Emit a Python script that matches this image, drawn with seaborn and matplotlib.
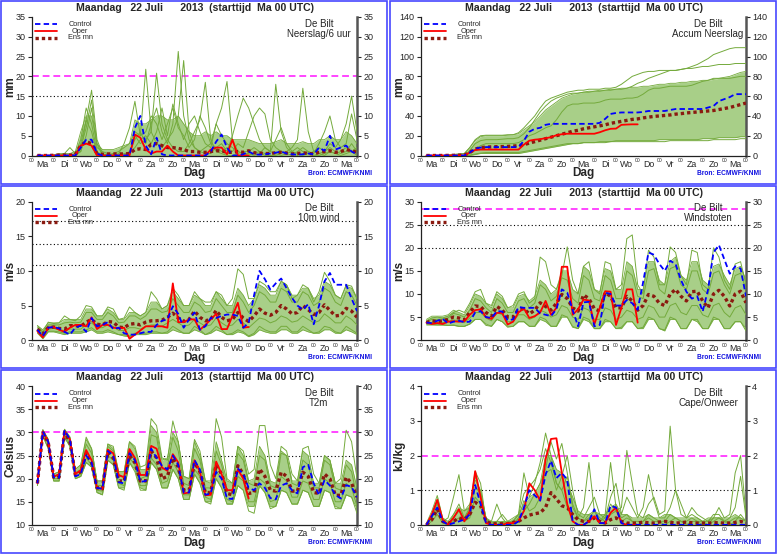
import numpy as np
import pandas as pd
import matplotlib
matplotlib.use("Agg")
import matplotlib.pyplot as plt
import seaborn as sns
from matplotlib.patches import Rectangle

sns.set_style("white")
plt.rcParams['font.family'] = ['Liberation Sans', 'DejaVu Sans']

# forecast steps (hours after Ma 00 UTC) and day names
uren = np.arange(6, 361, 6)
dagen = ["Ma", "Di", "Wo", "Do", "Vr", "Za", "Zo", "Ma", "Di", "Wo", "Do", "Vr", "Za", "Zo", "Ma"]

# ---------------- Neerslag / 6 uur (mm) ----------------
pr_control = [0, 0, 0, 0,  0, 0, 0, 0,  2, 4, 4, 0.5,  0, 0, 0, 0,
              0, 0, 7, 10,  2.5, 0.3, 4.5, 0.3,  0, 0, 0, 0,  0, 0, 0, 0,
              1, 3.5, 5.3, 2,  0, 0, 0.3, 1,  0.3, 0.2, 0.3, 0.5,  0.7, 1, 0.5, 0.3,
              0.2, 0.3, 0.5, 0.3,  2, 1.2, 5, 1.5,  2, 2.5, 1, 0.3]
pr_oper = [0, 0, 0, 0,  0, 0, 0, 0,  2.5, 3, 2.5, 0,  0, 0, 0, 0,
           0, 0, 5.3, 4.5,  1.5, 0.5, 1, 1,  2.5, 1, 0, 0,  0, 0, 0, 0,
           1.5, 2, 2, 0.3,  4, 0, 0, 0]
pr_mean = [0, 0, 0, 0.05,  0.1, 0.1, 0.1, 0.2,  2.5, 3.5, 3, 0.5,  0.3, 0.4, 0.4, 0.4,
           0.4, 0.5, 1.5, 1.7,  1.5, 2.8, 3, 2.5,  2, 2, 1.8, 1.5,  1, 1, 0.8, 0.8,
           1, 1.2, 1.2, 0.8,  0.8, 1, 0.8, 1.2,  0.7, 0.6, 0.5, 0.5,  0.7, 0.8, 0.6, 0.4,
           0.5, 0.7, 0.5, 0.4,  0.8, 1, 1.2, 0.8,  1, 1.5, 1.2, 0.8]
pr_hi = [0, 0, 0, 0.2,  0.5, 0.5, 0.5, 1,  6, 10, 10, 3,  1.5, 1.5, 1.5, 2,
         2.5, 3, 9, 8,  8, 9, 10, 10,  9, 9, 10, 8,  6, 5, 5, 6,
         5, 6, 5, 5,  4, 4, 4, 4,  3.5, 3, 3, 3,  3.5, 4, 3, 3,
         3, 3.5, 3, 3,  4, 4, 5, 4,  4, 6, 5, 3]
pr_leden = [
    [0, 0, 0, 0,  0, 0, 0, 0,  3, 9, 16.5, 4,  0.5, 0, 0.5, 1,
     2, 3, 6, 5,  21.8, 6, 3, 2,  4, 2, 1, 1,  3, 6, 9, 18.5,
     4, 1, 0.5, 0,  0, 0.5, 1, 1,  2, 1, 0.5, 1,  18, 6, 2, 0.5,
     0, 0.5, 1, 0,  0, 0.5, 1, 0.5,  1, 2, 1, 0],
    [0, 0, 0, 0,  0, 0.5, 2, 0.5,  1, 5, 12, 2,  1, 0.5, 0, 0,
     0, 1, 4, 6,  3, 8, 12, 6,  3, 8, 26.3, 10,  4, 2, 1, 2,
     3, 8, 12, 18.7,  4, 1, 0.5, 0,  0.5, 1, 0, 0,  0, 0.5, 1, 2,
     4, 17, 6, 1,  0.5, 0, 1, 0.5,  0, 0.5, 1, 2],
    [0, 0, 0, 0,  0, 0, 0, 0,  2, 7, 14, 3,  0, 0, 0.5, 0,
     0.5, 0.5, 5, 3,  4, 6, 20.8, 8,  4, 6, 10, 24,  6, 2, 1, 0.5,
     0.5, 2, 3, 1,  5, 10, 14.5, 12,  8, 4, 2, 1,  0.5, 0, 0.5, 1,
     0.5, 0, 0.5, 1,  2, 1, 3, 2,  4, 8, 15, 6],
    [0, 0, 0, 0,  0, 0, 0, 0.5,  4, 12, 8, 1,  0, 0.5, 0, 0.5,
     3, 7, 13.7, 5,  6, 10, 8, 4,  8, 12, 7, 5,  2, 4, 10, 7,
     3, 2, 1, 2,  1, 3, 2, 6,  10, 12, 10.5, 4,  2, 1, 0.5, 0,
     1, 2, 1, 0.5,  3, 6, 10, 4,  2, 3, 10.5, 4],
    [0, 0, 0, 0,  0, 0, 0, 0,  1, 9, 6, 0.5,  0, 0, 0, 0,
     0, 0.5, 2, 4,  5, 3, 6, 12,  5, 13, 8, 4,  8, 10, 6, 3,
     2, 8, 5, 3,  2, 1, 0.5, 0.5,  0, 0.5, 2, 1,  4, 7, 3, 1,
     2, 1, 0.5, 0,  0.5, 1, 2, 1,  0.5, 1, 3, 1],
]

# ---------------- Accum neerslag (mm) ----------------
acc_control = [0, 0, 0, 0,  0, 0, 0, 0,  3, 7, 8, 8.5,  8.5, 8.5, 8.5, 8.5,
               8.5, 8.5, 15, 24,  27, 28, 31, 32,  32, 32, 32, 32,  32, 32, 32, 32,
               33, 37, 42, 43,  43.5, 43.5, 43.5, 43.5,  44, 45, 45, 45,  45, 46, 47, 47,
               47, 47, 47, 47,  48.5, 50, 55, 57,  59, 62, 62, 62]
acc_oper = [0, 0, 0, 0,  0, 0, 0, 0,  3, 5.5, 6, 6,  6, 6, 6, 6,
            6, 6, 11, 15,  16, 16.5, 17.5, 18.5,  20.5, 21.5, 22, 22,  22, 22, 22, 22,
            23.5, 25.5, 27, 27.2,  31, 31.3, 31.5, 31.5]
acc_mean = [0, 0, 0, 0,  0.1, 0.2, 0.3, 0.4,  3, 6.5, 8, 8.5,  8.7, 8.9, 9, 9.2,
            9.5, 10, 11, 12.5,  14, 15.5, 17, 18.5,  20, 21.5, 23, 24.5,  25.5, 27, 28, 29,
            30, 31, 32.5, 33.5,  34.5, 35.5, 36.5, 37,  38, 38.8, 39.5, 40,  40.5, 41, 41.8, 42.3,
            43, 43.5, 44, 44.5,  45, 45.5, 46.5, 47.5,  48.5, 50, 51.5, 53]
acc_hi = [0, 0, 0, 0,  0.5, 1, 1.5, 2,  8, 15, 19, 20,  20, 20, 20, 20.5,
          21, 22, 26, 30,  34, 40, 46, 50,  54, 58, 60, 62,  63, 64, 65, 65,
          66, 66, 67, 67,  68, 68, 69, 69,  70, 70, 71, 72,  72, 73, 73, 74,
          74, 75, 75, 76,  76, 77, 78, 79,  80, 82, 84, 85]
acc_lo = [0, 0, 0, 0,  0, 0, 0, 0,  0, 1, 2, 2,  2, 2, 2, 2,
          2, 2, 3, 4,  5, 6, 7, 8,  9, 10, 11, 12,  12, 13, 13, 13,
          14, 14, 14, 15,  15, 15, 15, 15,  15, 15, 15, 16,  16, 16, 16, 16,
          16, 16, 16, 17,  17, 17, 18, 18,  18, 18, 19, 19]
acc_leden = [
    [0, 0, 0, 0,  0.5, 1, 1.5, 2,  8, 16, 20, 20.5,  20.5, 20.5, 20.5, 21,
     21, 23, 28, 34,  40, 48, 55, 58,  60, 62, 64, 65,  66, 66, 67, 67,
     67, 68, 68, 69,  72, 76, 80, 82,  84, 85, 85, 86,  86, 86, 86, 87,
     88, 90, 92, 95,  98, 102, 104, 106,  108, 109, 109, 109],
    [0, 0, 0, 0,  0, 0, 0, 0,  5, 12, 15, 16,  16, 16, 16.5, 17,
     17, 18, 22, 28,  36, 44, 50, 55,  58, 60, 62, 63,  63, 64, 64, 65,
     65, 66, 66, 67,  67, 68, 70, 73,  75, 78, 80, 82,  84, 86, 86, 87,
     88, 88, 89, 90,  90, 91, 92, 92,  92, 93, 93, 93],
    [0, 0, 0, 0,  0, 0, 0, 0,  0.5, 1.5, 2.5, 3,  3, 3, 3, 3,
     3, 3, 4, 5,  6, 7, 8, 9,  10, 11, 12, 12,  12, 13, 13, 13,
     13, 13, 14, 14,  14, 14, 14, 14,  14, 14, 14, 14,  14, 15, 15, 15,
     15, 15, 15, 15,  15, 16, 16, 16,  16, 16, 17, 17],
    [0, 0, 0, 0,  0, 0, 0, 0,  2, 6, 10, 12,  12, 12, 12, 12,
     12, 13, 16, 20,  22, 25, 28, 30,  36, 44, 50, 52,  52, 53, 53, 53,
     54, 56, 57, 57,  57, 58, 58, 59,  62, 66, 68, 68,  69, 70, 70, 70,
     70, 71, 73, 75,  76, 78, 78, 78,  78, 79, 80, 80],
]

# ---------------- 10m wind (m/s) ----------------
wd_control = [1.5, 0.6, 1.8, 1.9,  1.7, 1.2, 0.8, 1.8,  2.1, 1.2, 3.2, 2.0,  2.2, 2.6, 1.6, 1.8,
              1.0, 0.8, 0.8, 1.0,  1.2, 1.2, 2.2, 2.8,  3.0, 4.9, 3.8, 1.8,  3.0, 4.0, 1.5, 2.0,
              3.2, 3.2, 3.5, 3.7,  3.7, 3.5, 1.8, 2.5,  6.5, 10.0, 8.8, 7.3,  8.2, 8.9, 7.5, 6.1,
              5.0, 4.4, 5.2, 2.3,  5.0, 8.5, 9.7, 8.0,  8.0, 8.0, 6.0, 4.2]
wd_oper = [1.3, 0.4, 1.8, 1.9,  1.5, 1.2, 1.8, 2.2,  2.2, 2.0, 3.3, 1.6,  2.2, 2.2, 1.8, 1.7,
           1.8, 0.2, 0.8, 1.4,  2.0, 2.0, 2.0, 2.0,  1.8, 8.2, 2.6, 2.6,  3.0, 3.0, 1.5, 2.2,
           3.0, 3.8, 1.6, 1.6,  3.5, 5.4, 1.8, 1.9]
wd_mean = [1.6, 0.9, 1.8, 1.9,  1.7, 1.6, 2.1, 2.1,  2.0, 2.6, 3.0, 2.3,  2.2, 2.7, 2.6, 1.9,
           1.8, 2.3, 2.4, 2.2,  2.6, 2.8, 2.8, 2.9,  3.3, 3.9, 3.2, 2.7,  3.0, 4.2, 3.3, 2.8,
           3.0, 4.3, 3.3, 2.8,  3.0, 4.0, 3.2, 2.7,  3.5, 4.5, 3.9, 3.6,  4.0, 5.0, 4.5, 3.8,
           4.0, 5.0, 4.4, 3.7,  4.0, 5.1, 4.3, 3.5,  3.6, 4.6, 4.2, 3.3]
wd_hi = [2.1, 1.5, 2.5, 2.5,  2.5, 3.0, 3.0, 3.0,  3.0, 4.5, 4.5, 3.5,  3.5, 4.5, 4.0, 3.0,
         3.0, 4.0, 4.0, 3.5,  4.0, 5.5, 5.5, 4.5,  5.0, 7.0, 6.0, 5.0,  5.0, 6.5, 6.0, 5.0,
         5.0, 7.0, 6.0, 5.0,  5.0, 7.5, 6.5, 5.0,  6.0, 8.0, 7.5, 6.5,  6.5, 8.5, 8.0, 6.5,
         6.5, 7.5, 7.5, 6.0,  6.5, 8.5, 8.0, 6.5,  6.0, 7.8, 7.5, 6.0]
wd_lo = [1.0, 0.2, 1.2, 1.2,  1.0, 0.8, 1.0, 1.0,  1.0, 1.2, 1.5, 1.0,  1.0, 1.2, 1.0, 0.8,
         0.6, 0.5, 0.8, 0.8,  0.8, 1.0, 1.0, 1.0,  1.0, 1.5, 1.2, 1.0,  1.0, 1.5, 1.2, 0.8,
         1.0, 1.5, 1.2, 0.8,  0.8, 1.2, 1.0, 0.5,  0.8, 1.5, 1.2, 1.0,  1.0, 1.5, 1.5, 1.0,
         1.0, 1.5, 1.2, 1.0,  1.0, 1.5, 1.5, 1.0,  1.0, 1.5, 1.2, 0.8]
wd_leden = [
    [2.1, 1.2, 2.6, 2.4,  2.5, 3.5, 3.0, 2.8,  3.5, 5.0, 4.8, 3.5,  3.5, 4.8, 4.5, 3.0,
     3.2, 4.8, 4.0, 3.5,  4.0, 7.0, 6.0, 4.5,  5.0, 7.5, 6.5, 5.0,  5.0, 7.0, 6.0, 5.5,
     5.5, 7.0, 6.5, 5.0,  6.0, 10.3, 9.5, 6.0,  6.0, 8.5, 8.0, 7.0,  7.0, 8.5, 8.0, 6.0,
     6.5, 8.0, 7.5, 5.5,  7.0, 9.8, 8.5, 6.5,  6.0, 8.0, 7.8, 6.0],
    [1.2, 0.3, 1.3, 1.3,  1.2, 1.0, 1.2, 1.2,  1.2, 1.5, 1.8, 1.2,  1.2, 1.5, 1.2, 0.8,
     0.8, 0.6, 1.0, 1.0,  1.0, 1.2, 1.2, 1.0,  1.2, 2.0, 1.5, 1.0,  1.0, 2.0, 1.5, 0.8,
     1.2, 2.0, 1.5, 0.8,  1.0, 1.5, 1.2, 0.6,  1.0, 2.0, 1.5, 1.2,  1.2, 2.0, 2.0, 1.2,
     1.2, 2.0, 1.5, 1.0,  1.2, 2.0, 1.8, 1.2,  1.0, 2.0, 1.5, 1.0],
    [1.8, 1.0, 2.2, 2.2,  2.2, 2.5, 2.6, 2.5,  2.6, 4.0, 4.0, 3.0,  3.0, 4.0, 3.5, 2.5,
     2.6, 3.5, 3.5, 3.0,  3.5, 4.5, 4.5, 4.0,  4.2, 6.0, 5.0, 4.0,  4.0, 5.5, 5.0, 4.0,
     4.2, 6.0, 5.0, 4.0,  4.0, 6.5, 5.5, 4.0,  5.0, 7.0, 6.5, 5.5,  5.5, 7.5, 7.0, 5.5,
     5.5, 7.0, 6.5, 5.0,  5.5, 7.5, 7.0, 5.5,  5.0, 7.0, 6.5, 5.0],
    [1.4, 0.7, 1.6, 1.7,  1.5, 1.4, 1.6, 1.6,  1.6, 2.2, 2.5, 1.8,  1.8, 2.2, 2.0, 1.4,
     1.4, 1.8, 1.8, 1.6,  2.0, 2.2, 2.2, 2.0,  2.5, 3.0, 2.5, 2.0,  2.2, 3.0, 2.5, 2.0,
     2.2, 3.2, 2.5, 2.0,  2.2, 3.0, 2.5, 1.8,  2.5, 3.2, 3.0, 2.5,  2.8, 3.5, 3.2, 2.6,
     2.8, 3.5, 3.0, 2.5,  2.8, 3.8, 3.2, 2.5,  2.5, 3.5, 3.0, 2.2],
]

# ---------------- Windstoten (m/s) ----------------
ws_control = [3.8, 3.7, 4.2, 4.6,  3.6, 4.0, 4.2, 3.9,  4.0, 6.0, 6.3, 5.0,  4.8, 6.3, 6.2, 4.3,
              4.5, 7.2, 7.0, 7.0,  7.0, 5.8, 5.5, 5.2,  6.7, 11.0, 10.3, 6.5,  3.0, 8.2, 8.3, 3.0,
              3.3, 10.3, 10.0, 7.5,  7.5, 8.7, 8.0, 6.6,  12.5, 19.0, 18.5, 16.5,  15.0, 17.2, 16.5, 13.0,
              10.5, 9.0, 9.5, 6.2,  11.0, 19.0, 20.6, 17.5,  14.4, 16.0, 15.5, 9.5]
ws_oper = [3.8, 3.5, 3.7, 3.5,  4.0, 4.1, 4.0, 4.1,  5.5, 6.5, 6.7, 5.0,  4.6, 5.9, 5.9, 3.4,
           4.0, 6.0, 6.9, 4.8,  5.2, 6.0, 8.5, 5.5,  7.0, 15.9, 15.9, 5.5,  6.7, 8.8, 8.6, 3.4,
           7.0, 10.6, 10.5, 3.3,  7.0, 11.0, 11.0, 3.8]
ws_mean = [3.8, 4.2, 4.0, 4.2,  4.5, 5.0, 4.8, 4.4,  6.0, 7.4, 7.3, 6.0,  5.2, 7.3, 6.5, 5.0,
           5.0, 6.7, 6.8, 5.7,  6.5, 8.1, 7.3, 6.5,  8.0, 9.9, 9.0, 7.0,  6.3, 9.8, 9.0, 6.8,
           6.3, 10.3, 9.5, 7.0,  7.0, 9.5, 8.5, 6.5,  7.5, 9.9, 9.5, 8.0,  7.5, 10.0, 11.0, 9.5,
           8.5, 10.5, 10.6, 8.5,  7.0, 10.0, 10.8, 9.5,  7.4, 10.0, 10.6, 8.1]
ws_hi = [4.5, 5.2, 5.2, 5.2,  5.5, 6.5, 6.0, 5.5,  7.5, 10.0, 9.5, 8.0,  7.0, 10.0, 9.0, 7.0,
         7.0, 9.5, 10.0, 8.5,  9.5, 13.0, 12.0, 10.0,  11.0, 15.0, 15.0, 11.0,  10.0, 16.0, 15.0, 11.0,
         10.5, 15.5, 15.0, 11.0,  11.0, 17.0, 16.0, 11.0,  11.0, 17.0, 17.0, 13.0,  12.0, 17.0, 18.0, 14.0,
         13.0, 17.0, 17.0, 13.0,  12.0, 16.0, 16.5, 14.0,  12.0, 15.5, 16.0, 13.0]
ws_lo = [3.3, 3.3, 3.3, 3.3,  3.2, 3.2, 3.0, 3.0,  3.5, 4.5, 4.5, 3.5,  3.0, 4.5, 4.0, 3.0,
         3.0, 4.0, 4.0, 3.0,  3.0, 4.5, 4.0, 3.0,  3.0, 5.0, 5.0, 3.0,  2.5, 4.5, 4.0, 2.5,
         2.5, 4.0, 4.0, 2.5,  2.5, 4.0, 4.0, 2.5,  2.5, 4.5, 4.5, 2.5,  2.0, 4.5, 4.5, 2.5,
         2.5, 4.5, 4.0, 2.5,  2.5, 4.5, 4.5, 2.5,  2.5, 4.0, 4.0, 2.5]
ws_leden = [
    [4.2, 4.8, 5.0, 4.8,  5.2, 6.0, 6.5, 6.0,  8.0, 10.5, 11.0, 8.0,  7.5, 10.5, 9.5, 7.0,
     7.5, 10.0, 10.5, 8.0,  9.0, 18.0, 17.0, 12.0,  11.0, 14.0, 20.2, 13.0,  10.0, 16.0, 17.0, 11.0,
     10.0, 17.0, 16.5, 11.0,  12.0, 22.0, 22.8, 12.0,  10.0, 19.5, 18.0, 12.0,  12.0, 20.2, 19.0, 14.0,
     12.0, 19.5, 19.0, 12.0,  11.0, 20.0, 18.0, 13.0,  11.0, 16.5, 17.0, 12.0],
    [3.5, 3.4, 3.3, 3.3,  3.2, 3.3, 3.0, 3.0,  3.5, 4.5, 4.5, 3.2,  3.0, 4.5, 4.0, 2.8,
     3.0, 4.0, 4.0, 3.0,  3.0, 5.0, 4.5, 3.0,  3.0, 5.5, 5.0, 2.8,  2.5, 5.0, 4.5, 2.5,
     2.5, 4.5, 4.0, 2.5,  2.8, 4.0, 4.0, 2.5,  2.8, 5.0, 4.5, 2.5,  2.2, 5.0, 4.5, 2.5,
     2.5, 4.5, 4.5, 2.5,  2.5, 5.0, 4.5, 2.5,  2.5, 4.0, 4.0, 2.0],
    [4.0, 4.5, 4.5, 4.6,  4.8, 5.8, 5.5, 5.0,  6.5, 9.0, 8.5, 7.0,  6.0, 9.0, 8.0, 6.0,
     6.0, 8.5, 9.0, 7.0,  8.0, 12.0, 11.0, 8.5,  9.5, 13.5, 13.0, 9.0,  8.0, 14.0, 13.0, 9.0,
     8.5, 14.0, 13.0, 9.0,  9.0, 15.0, 14.0, 9.5,  9.0, 15.0, 15.5, 11.0,  10.0, 15.5, 16.0, 12.0,
     11.0, 15.0, 15.0, 11.0,  10.0, 14.5, 15.0, 12.0,  10.0, 14.0, 14.5, 11.0],
    [3.6, 3.8, 3.8, 3.8,  4.0, 4.4, 4.2, 3.8,  4.8, 6.0, 6.0, 4.8,  4.2, 6.0, 5.5, 4.0,
     4.0, 5.5, 5.5, 4.5,  5.0, 6.5, 6.0, 5.0,  5.5, 7.5, 7.0, 5.0,  4.5, 7.0, 6.5, 4.5,
     4.5, 7.0, 6.5, 4.5,  5.0, 6.5, 6.0, 4.5,  5.0, 7.5, 7.0, 5.0,  5.0, 7.5, 8.0, 6.0,
     5.5, 7.5, 7.5, 5.5,  5.0, 7.5, 8.0, 6.0,  5.0, 7.0, 7.5, 5.5],
]

# ---------------- T2m (Celsius) ----------------
t2m_control = [19, 30.2, 28, 20.3,  20.2, 30.5, 28.5, 20.5,  21, 25, 23.5, 18,  17.8, 26, 25, 19.2,
               19, 25.5, 24, 19.3,  19.5, 26.5, 24.5, 22.8,  22, 25, 23, 17,  17, 24, 22, 16.5,
               16.8, 21.5, 20, 15.7,  15.6, 22.2, 21, 18,  17.5, 19, 18, 15.8,  15.5, 18.5, 19, 17.5,
               16.8, 22.5, 23, 19,  16.4, 19.7, 18.5, 16.5,  15.7, 18.6, 18.2, 16]
t2m_oper = [19, 30.2, 28, 20.4,  21, 30.3, 28.5, 21,  21.8, 26.2, 24, 18,  17.8, 26.3, 25.5, 20.8,
            20.3, 26.4, 24.5, 20.8,  20.8, 27.1, 26.5, 22.4,  21.7, 25.3, 23.5, 16.8,  17, 24, 21.5, 16.4,
            16.5, 23.7, 21, 17.5,  17.5, 22, 20, 15.7]
t2m_mean = [19, 30, 27.8, 20.3,  20.3, 30, 28, 20.8,  21.5, 25.5, 23.5, 18,  17.8, 25.8, 24.5, 19.5,
            19.5, 25, 23.5, 19.5,  19.5, 26, 24.5, 20,  20.5, 24.5, 22.5, 17.5,  17.5, 23.5, 21.5, 17,
            17, 23, 21, 16.8,  16.5, 22.8, 21, 16.8,  17, 22.1, 20.5, 17.5,  17.3, 21.4, 20.5, 17.3,
            17.3, 21.4, 20.5, 17,  16.8, 21, 20, 16.4,  16.4, 20.3, 19, 16]
t2m_hi = [19.5, 30.6, 28.5, 21,  21.5, 30.7, 29, 22,  23, 28.5, 26.5, 19.5,  19.5, 27.5, 26.5, 21.5,
          21.5, 28, 26.5, 22,  22, 31.5, 30, 24,  24.5, 30, 28, 20.5,  20, 28, 25, 19.5,
          19, 28, 24, 19.5,  19, 27, 25, 19.5,  20, 27, 25, 19.5,  19, 26, 25, 19.5,
          19.5, 26, 25, 19,  19, 25, 24, 19,  19, 24, 23, 18]
t2m_lo = [18.5, 29.3, 26.5, 19.5,  19.5, 29, 27, 20,  20.5, 23.5, 22.5, 17,  16.5, 24, 23, 18,
          18, 23.5, 22, 18,  17.5, 23.5, 22, 18,  18, 22, 20, 15.5,  15.5, 21, 19, 15,
          15, 20, 18, 14.5,  14.5, 18.5, 17.5, 14,  14, 18.5, 17, 14,  14, 17.5, 17, 14.5,
          14.5, 17.5, 17, 14,  14, 17.5, 17, 14,  13.5, 16.5, 16, 13.5]
t2m_leden = [
    [19.5, 30.6, 28.5, 21,  21.5, 30.7, 29, 22,  23, 29, 26.5, 19.5,  19.5, 27.5, 27, 21.5,
     21.5, 28, 27, 22.5,  23, 33, 31.5, 24.5,  24, 32.5, 28, 20.5,  20, 28.5, 26, 19.5,
     19.5, 33, 29, 20,  19, 27, 26, 21,  22, 31.5, 31.5, 23,  20, 27, 26, 21,
     19.5, 26.5, 27, 21,  19, 25, 24, 19,  20, 30.5, 28, 20],
    [18.5, 29.3, 26.5, 19.5,  19.5, 29, 27, 20,  20.5, 23.5, 22.5, 17,  16.5, 24, 23, 18,
     17.5, 23.5, 21.5, 17.5,  17.5, 23.5, 22, 18,  18, 22, 20, 15.5,  15.5, 21, 19, 15,
     14.5, 20, 18, 14.5,  14.5, 18.5, 17.5, 13,  12.5, 18.5, 17, 13.5,  14, 17.5, 17, 14.5,
     14.5, 17.5, 17, 14,  14, 17.5, 17, 13.5,  13.5, 16.5, 16, 12.5],
    [19.2, 30.3, 28, 20.5,  20.8, 30.4, 28.2, 21.3,  22, 27.5, 25.5, 18.5,  18.5, 27, 26, 20.5,
     20.5, 26, 24, 20,  20.5, 29.5, 29, 22,  22.5, 29, 26, 19,  18.5, 26.5, 24, 18,
     18, 26, 23, 17.5,  17.5, 25.5, 24, 19,  18.5, 25, 24, 18.5,  18, 25.5, 25, 19,
     18.5, 24, 23, 18,  18, 24, 23, 18,  17.5, 23, 21.5, 16],
    [18.8, 29.8, 27.5, 20,  20, 29.7, 27.5, 20.5,  21, 24.5, 23, 17.5,  17.3, 25, 24, 19,
     18.5, 24.5, 23, 18.5,  18.5, 24.5, 23, 19,  19.5, 23.5, 21.5, 16.5,  16.5, 22, 20.5, 16,
     15.5, 21.5, 20, 15.5,  15, 20.5, 19.5, 15,  15, 20, 19, 15,  15.5, 20.5, 19.5, 16,
     16, 19.5, 19, 15.5,  15.5, 20, 19, 15,  15, 19, 18, 14],
]

# ---------------- Cape / Onweer (kJ/kg) ----------------
cp_control = [0, 0.25, 0.5, 0.1,  0, 0.05, 0.1, 0.15,  0.3, 1.15, 0.6, 0.05,  0, 0, 0, 0,
              0, 0.1, 0.5, 1.0,  0.85, 0.7, 1.45, 1.85,  1.35, 1.5, 1.3, 0.1,  0, 0, 0.1, 0.45,
              0.05, 0.05, 0.55, 0.5,  0.05, 0, 0, 0,  0, 0, 0, 0,  0, 0, 0, 0,
              0, 0, 0, 0,  0, 0, 0, 0,  0, 0, 0, 0]
cp_oper = [0, 0.3, 0.72, 0.15,  0, 0.2, 0.45, 0.1,  0.4, 1.55, 0.8, 0.05,  0, 0, 0, 0.05,
           0.05, 0.1, 0.4, 1.2,  1.0, 0.7, 1.9, 2.48,  2.5, 1.5, 0.6, 0.1,  0, 0, 0.1, 0.25,
           0.05, 0.05, 0.35, 0.5,  0.05, 0, 0, 0]
cp_mean = [0, 0.15, 0.45, 0.1,  0.05, 0.1, 0.2, 0.15,  0.3, 0.65, 0.55, 0.1,  0.03, 0.03, 0.03, 0.03,
           0.07, 0.1, 0.2, 0.28,  0.32, 0.35, 0.5, 0.93,  0.75, 0.55, 0.5, 0.3,  0.15, 0.1, 0.1, 0.2,
           0.1, 0.05, 0.15, 0.2,  0.1, 0.05, 0.05, 0.05,  0.08, 0.06, 0.05, 0.08,  0.1, 0.07, 0.05, 0.06,
           0.08, 0.06, 0.05, 0.05,  0.05, 0.06, 0.06, 0.05,  0.05, 0.07, 0.1, 0.05]
cp_hi = [0.05, 0.4, 0.85, 0.2,  0.1, 0.3, 0.5, 0.4,  0.6, 1.3, 1.0, 0.2,  0.1, 0.1, 0.1, 0.1,
         0.2, 0.3, 0.6, 0.8,  0.9, 1.2, 2.0, 2.0,  1.6, 1.5, 1.2, 0.8,  0.4, 0.3, 0.3, 0.4,
         0.3, 0.3, 0.5, 0.6,  0.3, 0.3, 0.2, 0.2,  0.2, 0.3, 0.2, 0.2,  0.3, 0.3, 0.2, 0.2,
         0.2, 0.2, 0.2, 0.1,  0.2, 0.2, 0.2, 0.2,  0.2, 0.3, 0.2, 0.1]
cp_leden = [
    [0, 0.3, 0.6, 0.1,  0.2, 0.8, 1.45, 0.4,  0.5, 1.4, 0.9, 0.2,  0, 0.1, 0.3, 0.1,
     0.1, 0.3, 1.5, 0.8,  1.2, 1.8, 2.65, 2.0,  1.2, 1.0, 0.5, 0.2,  0.2, 0.5, 1.8, 0.4,
     0.1, 0.3, 1.8, 0.5,  0.2, 0.3, 0.1, 0,  0.1, 0.3, 0.2, 0.1,  0, 0.1, 0.2, 0.1,
     0, 0.1, 0.1, 0,  0, 0.2, 0.5, 0.2,  0.3, 1.5, 2.0, 0.3],
    [0, 0.2, 0.7, 0.1,  0, 0.3, 0.6, 0.2,  0.5, 1.55, 1.2, 0.1,  0.1, 0.6, 0.2, 0,
     0, 0.2, 0.4, 0.6,  0.9, 1.2, 1.6, 2.4,  1.9, 2.35, 1.5, 0.6,  0.2, 0.1, 0.2, 0.4,
     0.2, 0.1, 0.3, 0.4,  0.5, 2.15, 1.2, 0.3,  0.2, 0.6, 0.8, 0.3,  0.4, 2.85, 1.0, 0.3,
     0.2, 0.3, 0.2, 0.1,  0, 0.1, 0.2, 0.1,  0, 0.1, 0.3, 0.1],
    [0, 0.1, 0.3, 0.05,  0, 0.1, 0.2, 0.1,  0.2, 0.8, 0.6, 0.1,  0, 0, 0.1, 0,
     0, 0.2, 0.7, 0.4,  0.5, 0.8, 1.5, 1.6,  1.0, 1.4, 2.0, 1.0,  0.3, 0.2, 0.5, 0.8,
     0.3, 0.2, 0.8, 1.2,  0.3, 0.8, 0.5, 0.2,  0.5, 1.45, 0.7, 0.2,  0.2, 0.5, 1.0, 0.6,
     0.2, 0.5, 0.3, 0.2,  0.1, 0.3, 0.3, 0.1,  0.2, 0.5, 1.4, 0.2],
    [0, 0.2, 0.5, 0.1,  0.05, 0.2, 0.4, 0.2,  0.4, 1.1, 0.9, 0.15,  0.05, 0.1, 0.05, 0.05,
     0.1, 0.3, 0.9, 1.1,  1.3, 1.6, 2.2, 1.8,  1.2, 1.0, 1.4, 0.5,  0.2, 0.1, 0.3, 0.2,
     0.1, 0.2, 0.6, 0.4,  0.1, 0.2, 0.1, 0.1,  0.1, 0.2, 0.1, 0.1,  0.1, 0.3, 0.2, 0.1,
     0.1, 0.2, 0.1, 0.1,  0.1, 0.2, 0.2, 0.1,  0.1, 0.2, 0.2, 0.1],
]

# panel options: (row, col, name, unit, ylim, ystep, control, oper, mean, lo, hi, members, reference lines)
panels = [
    (0, 0, "Neerslag/6 uur", "mm", (0, 35), 5, pr_control, pr_oper, pr_mean, None, pr_hi, pr_leden,
     [(20, "mag"), (15, "dot")]),
    (0, 1, "Accum Neerslag", "mm", (0, 140), 20, acc_control, acc_oper, acc_mean, acc_lo, acc_hi, acc_leden, []),
    (1, 0, "10m wind", "m/s", (0, 20), 5, wd_control, wd_oper, wd_mean, wd_lo, wd_hi, wd_leden,
     [(10.8, "dot"), (13.9, "dot"), (17.2, "dot")]),
    (1, 1, "Windstoten", "m/s", (0, 30), 5, ws_control, ws_oper, ws_mean, ws_lo, ws_hi, ws_leden,
     [(28.5, "mag"), (25, "dot"), (20, "dot")]),
    (2, 0, "T2m", "Celsius", (10, 40), 5, t2m_control, t2m_oper, t2m_mean, t2m_lo, t2m_hi, t2m_leden,
     [(30, "mag"), (25, "dot")]),
    (2, 1, "Cape/Onweer", "kJ/kg", (0, 4), 1, cp_control, cp_oper, cp_mean, None, cp_hi, cp_leden,
     [(2, "mag"), (1, "dot")]),
]

W, H = 778, 554
CW, CH = 389, 554 / 3
GREEN_FILL = "#a8cf88"
GREEN_LINE = "#74aa3c"
MEAN_COL = "#8b1a10"

fig = plt.figure(figsize=(W / 100, H / 100), dpi=100)

for (r, c, name, unit, ylim, ystep, control, oper, mean, lo, hi, leden, refs) in panels:
    x0 = c * CW + 32
    ytop = r * CH + 17
    ax = fig.add_axes([x0 / W, 1 - (ytop + 138.5) / H, 325 / W, 138.5 / H])

    # border of the cell
    fig.add_artist(Rectangle((c * CW / W + 0.001, 1 - (r + 1) * CH / H + 0.002),
                             CW / W - 0.003, CH / H - 0.004, transform=fig.transFigure,
                             fill=False, edgecolor="#4848ff", lw=1.2))

    for yv, kind in refs:
        if kind == "mag":
            ax.axhline(yv, color="#ff44ff", lw=1.4, ls=(0, (3.5, 2)), zorder=1)
        else:
            ax.axhline(yv, color="black", lw=0.8, ls=(0, (1, 2.2)), zorder=1)

    # ensemble members: dense core as band, outlying members as lines
    ax.fill_between(uren, 0 if lo is None else lo, hi, color=GREEN_FILL, lw=0, zorder=2)
    leden_df = pd.DataFrame({
        "uur": np.tile(uren, len(leden)),
        "waarde": np.concatenate([np.array(m, dtype=float) for m in leden]),
        "lid": np.repeat(np.arange(len(leden)), len(uren)),
    })
    sns.lineplot(data=leden_df, x="uur", y="waarde", units="lid", estimator=None,
                 color=GREEN_LINE, lw=0.7, ax=ax, legend=False, zorder=3)
    if lo is not None:
        sns.lineplot(x=uren, y=lo, color=GREEN_LINE, lw=0.6, ax=ax, zorder=3)
    sns.lineplot(x=uren, y=hi, color=GREEN_LINE, lw=0.6, ax=ax, zorder=3)

    sns.lineplot(x=uren, y=mean, color=MEAN_COL, lw=2.4, ls=(0, (1, 0.9)), ax=ax, zorder=5)
    sns.lineplot(x=uren[:len(oper)], y=oper, color="#ff0000", lw=1.3, ax=ax, zorder=6)
    sns.lineplot(x=uren, y=control, color="#0000ff", lw=1.3, ls=(0, (3, 1.8)), ax=ax, zorder=7)

    # axes styling
    ax.set_xlim(0, 360)
    ax.set_ylim(*ylim)
    ax.set_yticks(np.arange(ylim[0], ylim[1] + 0.01, ystep))
    ax.yaxis.set_major_formatter(plt.FuncFormatter(lambda v, p: f"{v:g}"))
    ax.set_xticks(np.arange(0, 361, 24))
    ax.set_xticklabels(["00"] * 16)
    ax.set_xticks(np.arange(0, 361, 6), minor=True)
    ax.tick_params(axis="x", which="major", labelsize=3.6, length=1.5, pad=0.3, direction="out")
    ax.tick_params(axis="x", which="minor", length=1.2, direction="out")
    ax.tick_params(axis="y", which="major", labelsize=6.5, length=3, pad=1.5, direction="out",
                   left=True, right=True, labelleft=True, labelright=True)
    for s in ["left", "bottom"]:
        ax.spines[s].set_color("#222222")
        ax.spines[s].set_linewidth(0.9)
    ax.spines["right"].set_color("#555555")
    ax.spines["right"].set_linewidth(1.8)
    ax.spines["top"].set_visible(False)
    ax.set_xlabel("")
    ax.set_ylabel(unit, fontsize=8.5, fontweight="bold", labelpad=0)
    ax.yaxis.set_label_coords(-0.048, 0.5)

    for i, d in enumerate(dagen):
        ax.text((24 * i + 12) / 360, -0.062, d, transform=ax.transAxes, ha="center", va="center",
                fontsize=6.3)
    ax.text(0.5, -0.128, "Dag", transform=ax.transAxes, ha="center", va="center",
            fontsize=8.5, fontweight="bold")
    ax.text(1.046, -0.128, "Bron: ECMWF/KNMI", transform=ax.transAxes, ha="right", va="center",
            fontsize=4.8, fontweight="bold", color="#1010e0")
    ax.text(0.883, 0.953, "De Bilt", transform=ax.transAxes, ha="center", va="center", fontsize=7)
    ax.text(0.883, 0.879, name, transform=ax.transAxes, ha="center", va="center", fontsize=7)

    # legend
    for yy, lab, col, lw, ls in [(0.946, "Control", "#0000ff", 1.3, (0, (3, 1.8))),
                                 (0.897, "Oper", "#ff0000", 1.3, "-"),
                                 (0.850, "Ens mn", MEAN_COL, 2.4, (0, (1, 0.9)))]:
        ax.plot([0.01, 0.077], [yy, yy], transform=ax.transAxes, color=col, lw=lw, ls=ls, zorder=8)
        ax.text(0.148, yy, lab, transform=ax.transAxes, ha="center", va="center", fontsize=5.3, zorder=8)

    fig.text((c * CW + 195) / W, 1 - (r * CH + 8) / H,
             "Maandag   22 Juli      2013  (starttijd  Ma 00 UTC)",
             ha="center", va="center", fontsize=7.6, fontweight="bold")

fig.savefig("out.png", dpi=100)
